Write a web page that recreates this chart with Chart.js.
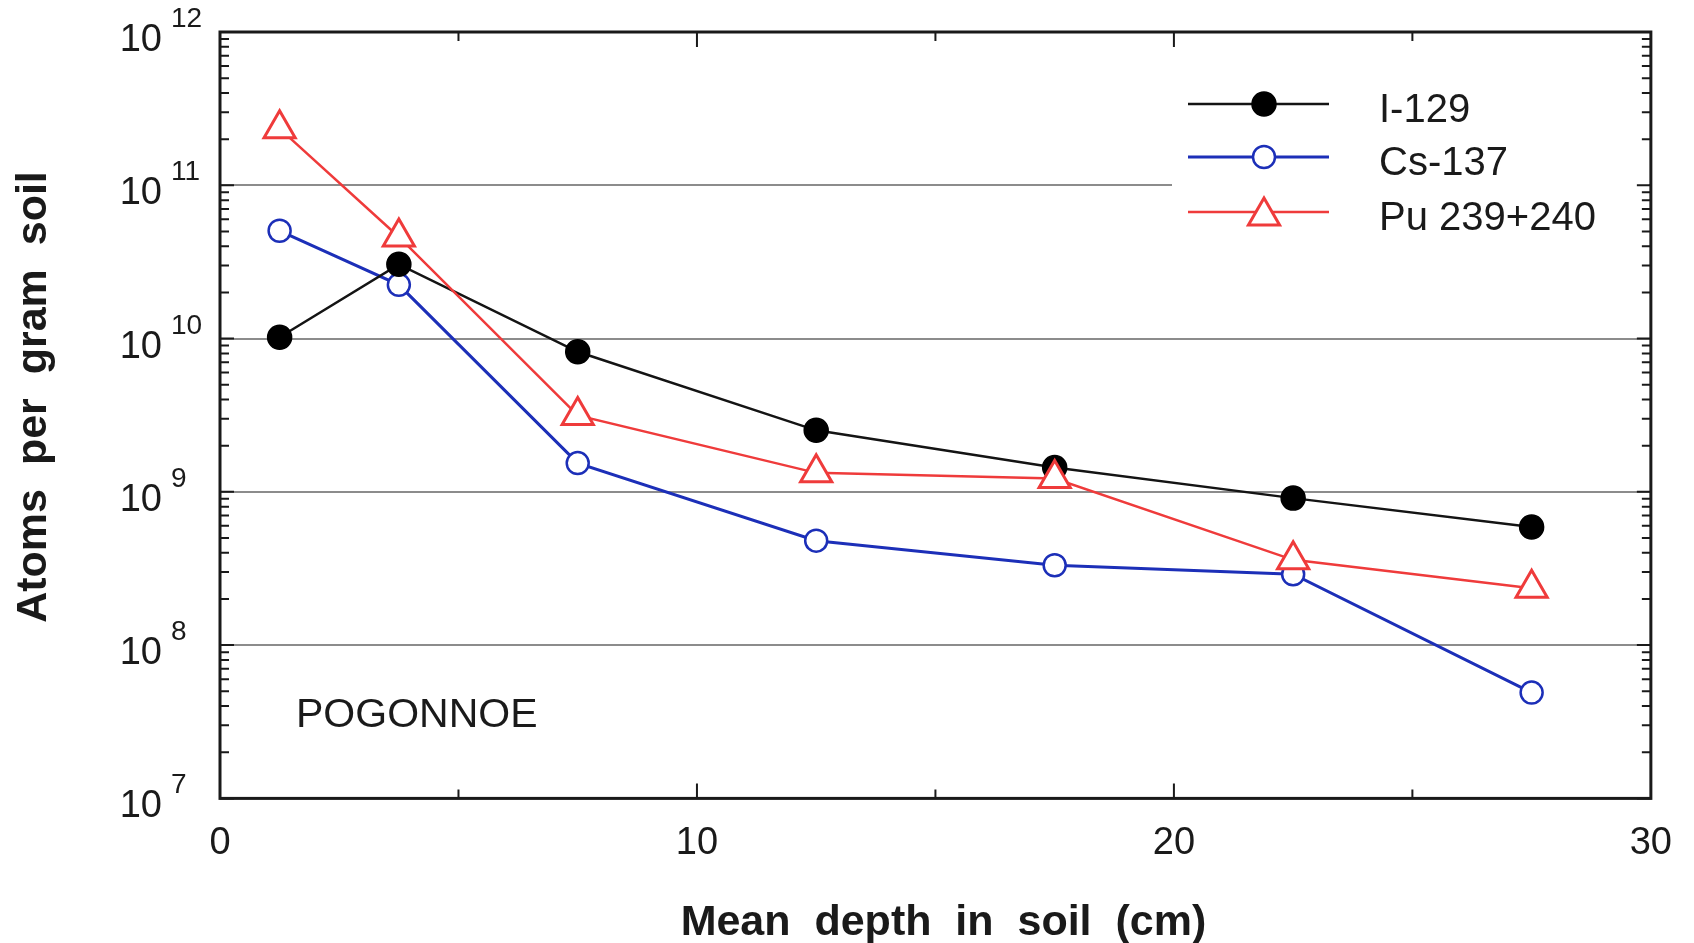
<!DOCTYPE html>
<html>
<head>
<meta charset="utf-8">
<title>Atoms per gram soil - Pogonnoe</title>
<script src="https://cdn.jsdelivr.net/npm/chart.js@4.4.1/dist/chart.umd.min.js"></script>
<style>
  html, body { margin: 0; padding: 0; background: #fff; }
  canvas { display: block; }
</style>
</head>
<body>
<canvas id="depth-chart" width="1694" height="943"></canvas>
<script>
// values (depth in cm, atoms per gram soil)
const depthCm   = [1.25, 3.75, 7.5, 12.5, 17.5, 22.5, 27.5];
const iodine129 = [1.02e10, 3.05e10, 8.2e9, 2.52e9, 1.44e9, 9.1e8, 5.9e8];
const cesium137 = [5.05e10, 2.24e10, 1.54e9, 4.8e8, 3.32e8, 2.9e8, 4.9e7];
const plutonium = [2.34e11, 4.6e10, 3.15e9, 1.33e9, 1.22e9, 3.6e8, 2.35e8];

const seriesNames  = ['I-129', 'Cs-137', 'Pu 239+240'];
const xTickValues  = [0, 10, 20, 30];
const xMinorTicks  = [5, 15, 25];
const yExponents   = [7, 8, 9, 10, 11, 12];
const siteLabel    = 'POGONNOE';
const xTitle       = 'Mean  depth  in  soil  (cm)';
const yTitle       = 'Atoms  per  gram  soil';

const FONT = '"Liberation Sans", Arial, Helvetica, sans-serif';
const INK = '#1a1a1a';
const GRID = '#8c8c8c';

const toPoints = values => values.map((v, i) => ({ x: depthCm[i], y: v }));

const decorations = {
    id: 'decorations',
    beforeDatasetsDraw(chart) {
        // white patch behind the legend hides part of the 10^11 grid line
        const { ctx, chartArea: a } = chart;
        ctx.save();
        ctx.fillStyle = '#fff';
        ctx.fillRect(1172, a.top + 30, a.right - 2 - 1172, 200);
        ctx.restore();
    },
    afterDraw(chart) {
        const { ctx, chartArea: a, scales: { x, y } } = chart;
        ctx.save();

        // inward ticks on all four sides
        ctx.strokeStyle = INK;
        ctx.lineWidth = 2;
        ctx.beginPath();
        yExponents.slice(0, -1).forEach(p => {
            for (let m = 1; m <= 9; m++) {
                const py = y.getPixelForValue(m * 10 ** p);
                const len = m === 1 ? 14 : 9;
                ctx.moveTo(a.left, py);  ctx.lineTo(a.left + len, py);
                ctx.moveTo(a.right, py); ctx.lineTo(a.right - len, py);
            }
        });
        [...xTickValues.slice(1, -1), ...xMinorTicks].forEach(v => {
            const px = x.getPixelForValue(v);
            const len = xMinorTicks.includes(v) ? 9 : 15;
            ctx.moveTo(px, a.bottom); ctx.lineTo(px, a.bottom - len);
            ctx.moveTo(px, a.top);    ctx.lineTo(px, a.top + len);
        });
        ctx.stroke();

        ctx.lineWidth = 3;
        ctx.strokeRect(a.left, a.top, a.right - a.left, a.bottom - a.top);

        // y tick labels: 10 with a raised exponent
        ctx.fillStyle = INK;
        ctx.textBaseline = 'alphabetic';
        yExponents.forEach(p => {
            const py = y.getPixelForValue(10 ** p);
            ctx.font = `38px ${FONT}`;
            ctx.textAlign = 'right';
            ctx.fillText('10', a.left - 58, py + 19);
            ctx.font = `28px ${FONT}`;
            ctx.textAlign = 'left';
            ctx.fillText(String(p), a.left - 49, py - 5);
        });

        // axis titles
        ctx.font = `bold 43px ${FONT}`;
        ctx.textAlign = 'center';
        ctx.fillText(xTitle, (a.left + a.right) / 2 + 8, 935);
        ctx.save();
        ctx.translate(46, 397);
        ctx.rotate(-Math.PI / 2);
        ctx.fillText(yTitle, 0, 0);
        ctx.restore();

        // site name
        ctx.font = `41px ${FONT}`;
        ctx.textAlign = 'left';
        ctx.fillText(siteLabel, 296, 727);

        // legend
        const rows = [104, 157, 212];
        chart.data.datasets.forEach((ds, i) => {
            const ry = rows[i];
            ctx.strokeStyle = ds.borderColor;
            ctx.lineWidth = ds.borderWidth;
            ctx.beginPath();
            ctx.moveTo(1188, ry);
            ctx.lineTo(1329, ry);
            ctx.stroke();
            ctx.fillStyle = ds.pointBackgroundColor;
            ctx.strokeStyle = ds.pointBorderColor;
            ctx.lineWidth = ds.pointBorderWidth;
            const off = ds.pointStyle === 'triangle' ? 4 : 0;
            Chart.helpers.drawPoint(ctx, {
                pointStyle: ds.pointStyle,
                radius: ds.pointRadius,
                rotation: 0,
                borderWidth: ds.pointBorderWidth
            }, 1264, ry + off);
            ctx.fillStyle = INK;
            ctx.font = `40px ${FONT}`;
            ctx.textAlign = 'left';
            ctx.fillText(ds.label, 1379, ry + 18);
        });

        ctx.restore();
    }
};

new Chart(document.getElementById('depth-chart'), {
    type: 'line',
    data: {
        datasets: [
            {
                label: seriesNames[0],
                data: toPoints(iodine129),
                borderColor: '#141414',
                borderWidth: 2.5,
                pointStyle: 'circle',
                pointRadius: 12,
                pointBackgroundColor: '#000',
                pointBorderColor: '#000',
                pointBorderWidth: 1.5,
                order: 1
            },
            {
                label: seriesNames[1],
                data: toPoints(cesium137),
                borderColor: '#1c2fb8',
                borderWidth: 3,
                pointStyle: 'circle',
                pointRadius: 11,
                pointBackgroundColor: '#fff',
                pointBorderColor: '#1c2fb8',
                pointBorderWidth: 2.5,
                order: 2
            },
            {
                label: seriesNames[2],
                data: toPoints(plutonium),
                borderColor: '#ef3b3b',
                borderWidth: 2.5,
                pointStyle: 'triangle',
                pointRadius: 18,
                pointBackgroundColor: '#fff',
                pointBorderColor: '#ef3b3b',
                pointBorderWidth: 3,
                order: 0
            }
        ]
    },
    options: {
        responsive: false,
        animation: false,
        devicePixelRatio: 1,
        layout: { padding: { left: 220, right: 38, top: 32, bottom: 55 } },
        plugins: {
            legend: { display: false },
            tooltip: { enabled: false }
        },
        elements: { line: { tension: 0 } },
        scales: {
            x: {
                type: 'linear',
                min: 0,
                max: 30,
                afterBuildTicks: scale => { scale.ticks = xTickValues.map(v => ({ value: v })); },
                grid: { display: false, drawTicks: false },
                border: { display: false },
                ticks: {
                    padding: 22,
                    color: INK,
                    font: { family: FONT, size: 38 },
                    maxRotation: 0
                }
            },
            y: {
                type: 'logarithmic',
                min: 1e7,
                max: 1e12,
                afterBuildTicks: scale => { scale.ticks = yExponents.map(p => ({ value: 10 ** p })); },
                grid: {
                    drawTicks: false,
                    lineWidth: 2,
                    color: c => (c.tick && (c.tick.value > 1e7 && c.tick.value < 1e12)) ? GRID : 'rgba(0,0,0,0)'
                },
                border: { display: false },
                ticks: { display: false }
            }
        }
    },
    plugins: [decorations]
});
</script>
</body>
</html>
